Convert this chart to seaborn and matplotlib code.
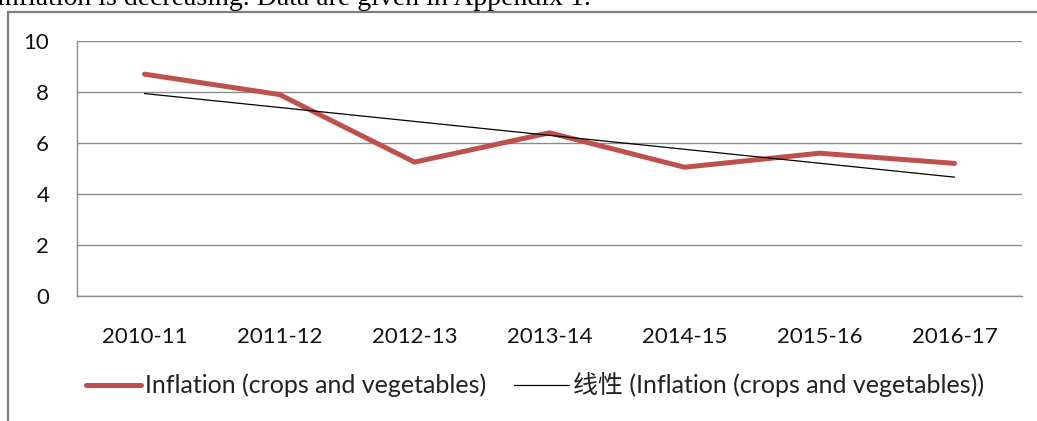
import numpy as np
import pandas as pd
import matplotlib
matplotlib.use("Agg")
import matplotlib.pyplot as plt
import seaborn as sns
from matplotlib.lines import Line2D

# chart values
years = ["2010-11", "2011-12", "2012-13", "2013-14", "2014-15", "2015-16", "2016-17"]
inflation = [8.7, 7.9, 5.25, 6.4, 5.05, 5.6, 5.2]
y_ticks = [0, 2, 4, 6, 8, 10]

df = pd.DataFrame({"pos": np.arange(len(years)), "year": years, "inflation": inflation})

sns.set_style("white")
plt.rcParams["font.family"] = ["Lato", "Noto Sans CJK SC", "DejaVu Sans"]

fig = plt.figure(figsize=(10.37, 4.21), dpi=100)
ax = fig.add_axes([77 / 1037, 1 - 296 / 421, 945 / 1037, 255 / 421])

grid_c = "#8c8c8c"

sns.lineplot(data=df, x="pos", y="inflation", ax=ax, color="#c0504d", linewidth=3.6,
             label="Inflation (crops and vegetables)", solid_capstyle="round")
sns.regplot(data=df, x="pos", y="inflation", ax=ax, scatter=False, ci=None,
            line_kws={"color": "black", "linewidth": 0.9},
            label="线性 (Inflation (crops and vegetables))")

ax.set_xlim(-0.5, len(years) - 0.5)
ax.set_ylim(0, 10)
ax.set_xticks(df["pos"])
ax.set_xticklabels(years)
ax.set_yticks(y_ticks)
ax.set_yticklabels([str(v) for v in y_ticks])
ax.set_xlabel("")
ax.set_ylabel("")
ax.tick_params(axis="both", length=0, labelsize=16, colors="#111111")
ax.tick_params(axis="x", pad=22)
ax.tick_params(axis="y", pad=20)

ax.yaxis.grid(True, color=grid_c, linewidth=1.0)
ax.set_axisbelow(True)
for s in ["top", "right"]:
    ax.spines[s].set_visible(False)
ax.spines["bottom"].set_color(grid_c)
ax.spines["left"].set_color(grid_c)
ax.spines["bottom"].set_linewidth(1.0)
ax.spines["left"].set_linewidth(1.0)

handles = [Line2D([], [], color="#c0504d", linewidth=3.6, solid_capstyle="round"),
           Line2D([], [], color="black", linewidth=0.9)]
labels = ["Inflation (crops and vegetables)", "线性 (Inflation (crops and vegetables))"]
ax.legend(handles, labels, loc="center", bbox_to_anchor=(535 / 1037, 1 - 385 / 421),
          bbox_transform=fig.transFigure, ncol=2, frameon=False, fontsize=18,
          handlelength=2.2, handletextpad=0.15, columnspacing=1.1,
          labelcolor="#222222")

# surrounding document frame and clipped caption text
fig.add_artist(Line2D([8 / 1037, 8 / 1037], [0, 1 - 12 / 421], transform=fig.transFigure,
                      color="#7f7f7f", linewidth=1.6))
fig.add_artist(Line2D([8 / 1037, 1], [1 - 12 / 421, 1 - 12 / 421], transform=fig.transFigure,
                      color="#7f7f7f", linewidth=1.6))
fig.text(-3 / 1037, 1 - 5 / 421, "inflation is decreasing. Data are given in Appendix 1.",
         family="Liberation Serif", fontsize=20, va="baseline", ha="left", color="black")

fig.savefig("out.png", dpi=100)
